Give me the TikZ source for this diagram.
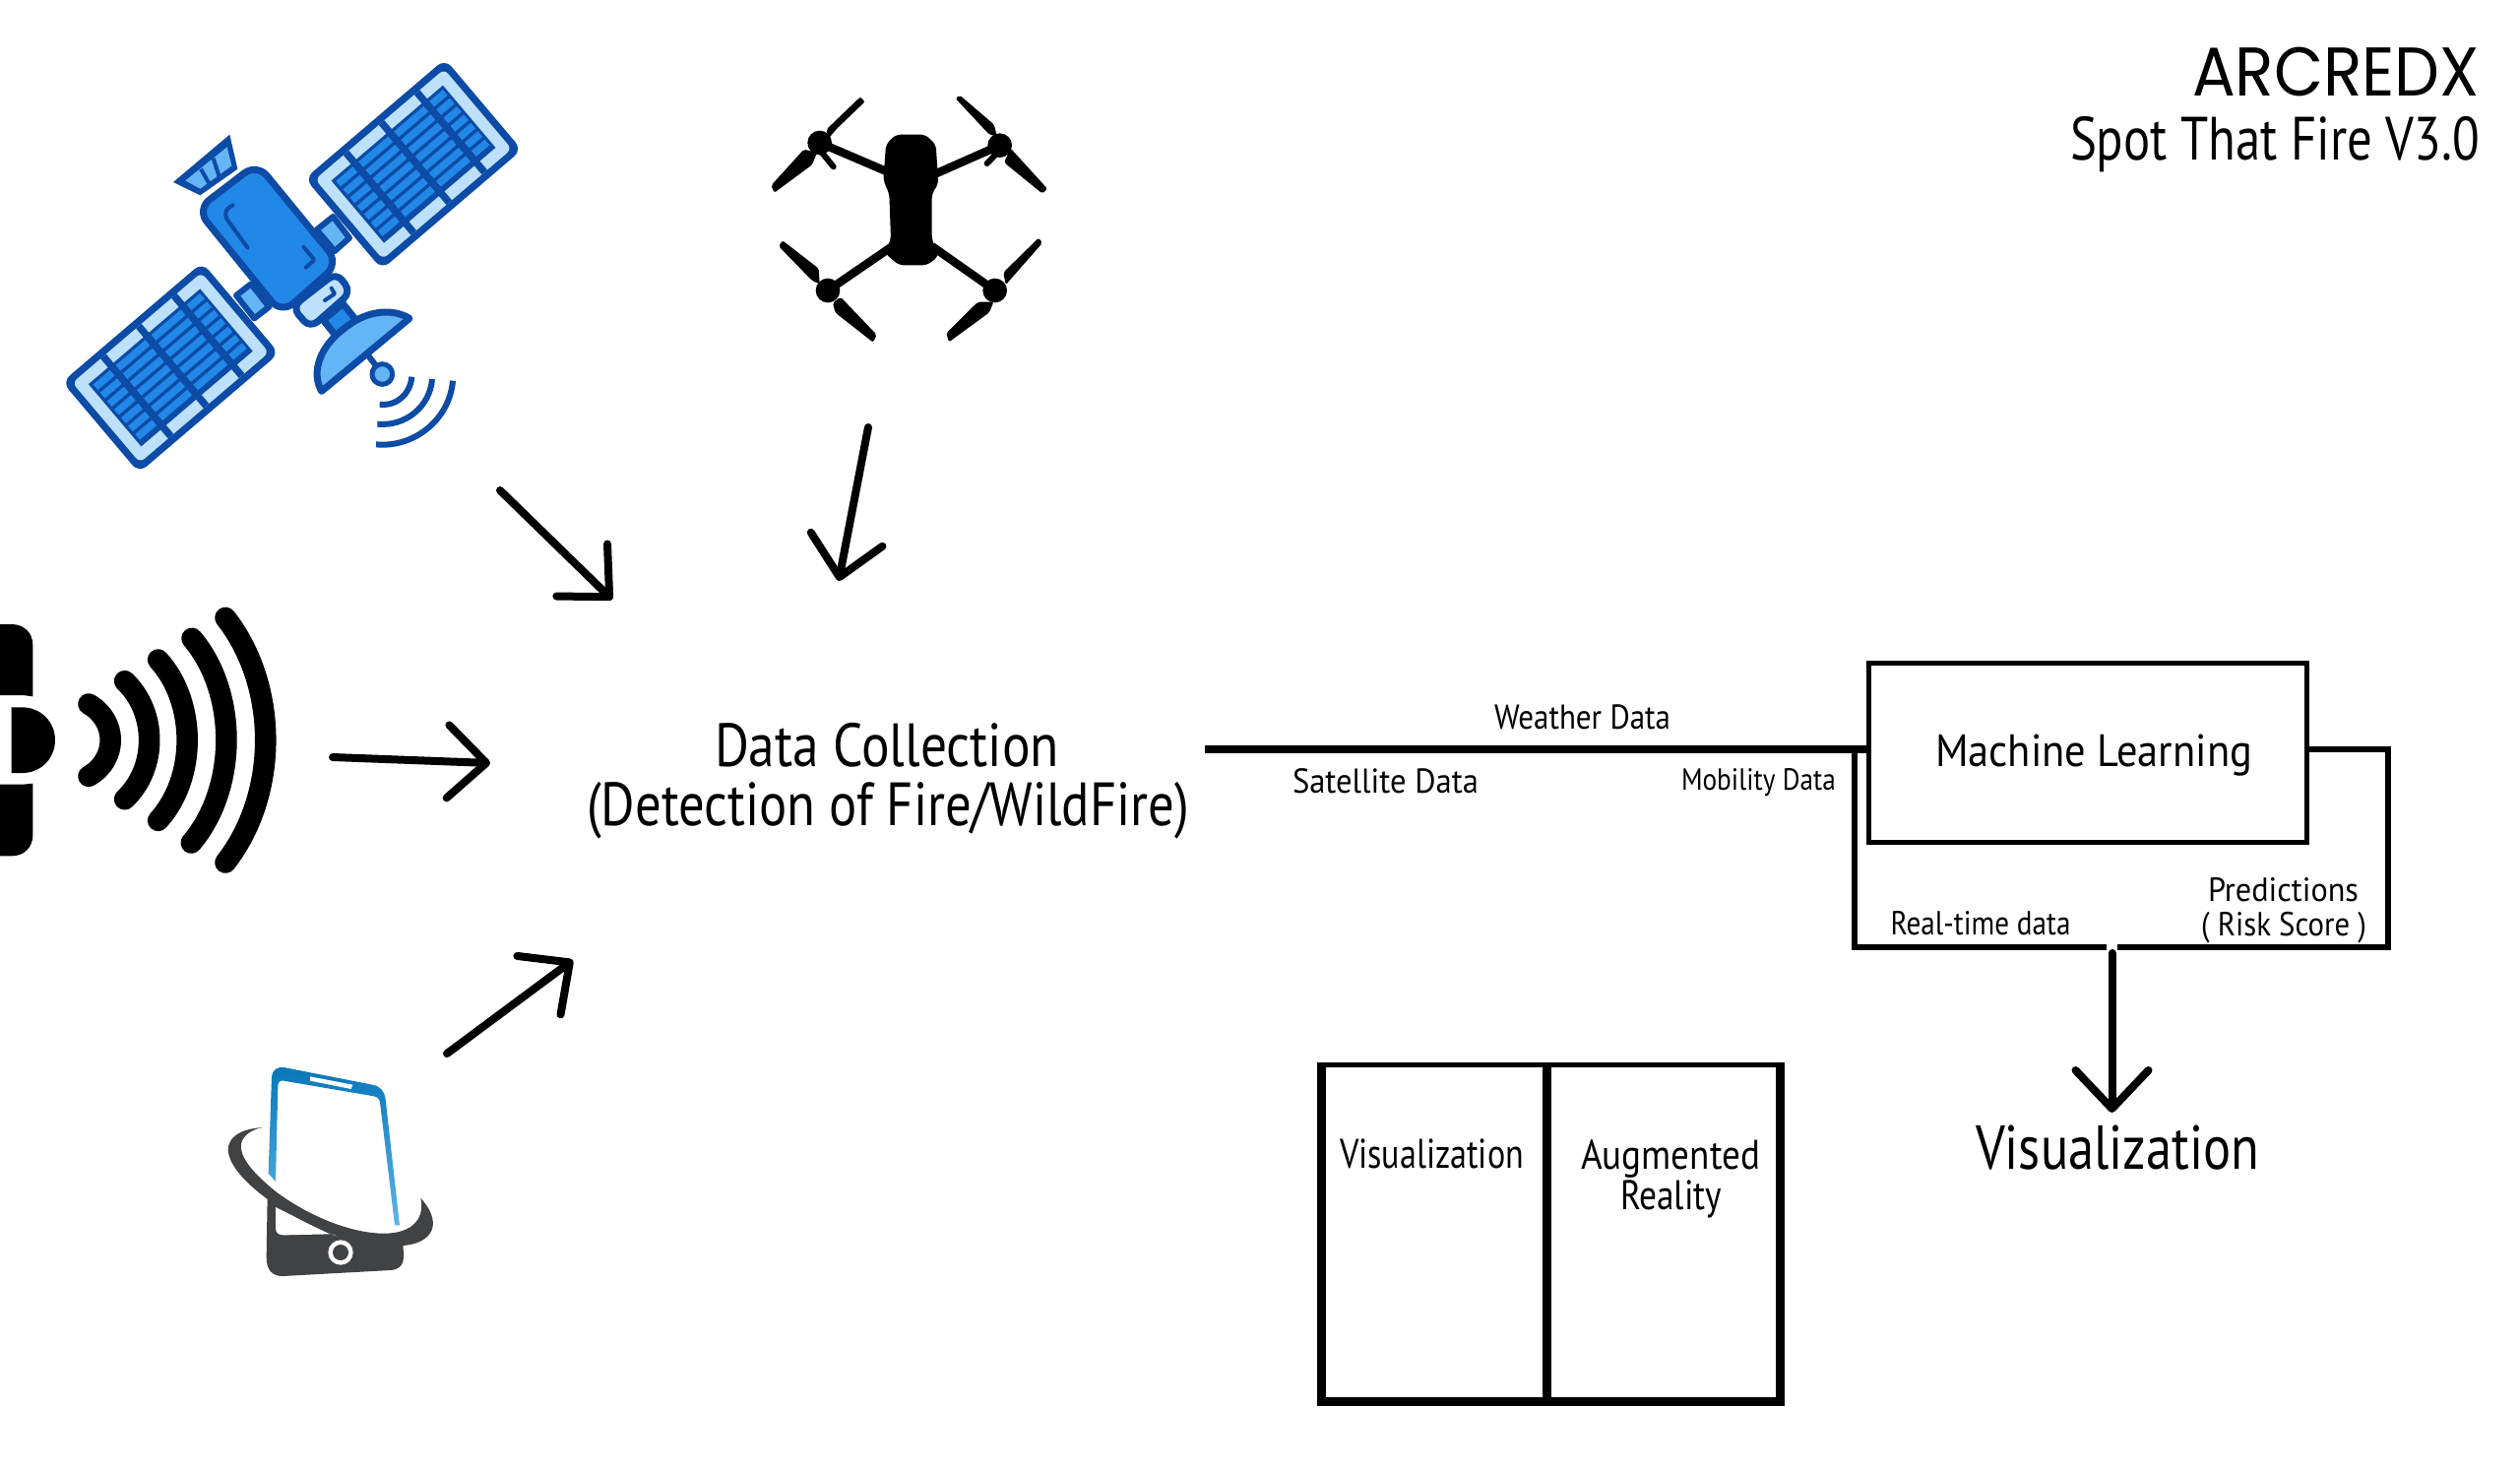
\documentclass[tikz,border=0pt]{standalone}
\usepackage{fontspec}
\usepackage{graphicx}
\setmainfont{PT Sans}
\newfontfamily\logofont{Poppins}
\usetikzlibrary{arrows.meta}
\definecolor{satdark}{HTML}{0C4BA6}
\definecolor{satmid}{HTML}{2288E8}
\definecolor{satlight}{HTML}{BDE0FB}
\definecolor{satsky}{HTML}{64B5F6}
\definecolor{phoneblue}{HTML}{0877B8}
\definecolor{phonesky}{HTML}{5DB4E8}
\definecolor{phonedark}{HTML}{414244}
\tikzset{
  lbl/.style={inner sep=0pt,outer sep=0pt,anchor=base west,text=black},
  feedarrow/.style={line width=4pt,line cap=round,-{Straight Barb[length=19.5pt,width=37pt,round]}},
  boxline/.style={draw=black,line width=2.5pt,fill=none},
  busline/.style={draw=black,line width=2.8pt},
  zoomed/.style={x=0.16667pt,y=-0.16667pt},
  satside/.style={x={(0.1268pt,0.1082pt)},y={(0.1078pt,-0.1275pt)}},
  satline/.style={draw=satdark,line width=3.5pt,line join=round},
}
% name, left x, baseline y, width in px, font size in pt, text
\newcommand{\lab}[6]{\node[lbl] (#1) at (#2,#3) {\resizebox{\dimexpr #4pt/2\relax}{\height}{\fontsize{#5}{#5}\selectfont #6}};}
% a rectangle as a polygon, so that it follows oblique axes
\newcommand{\qr}[4]{(#1,#2) -- (#3,#2) -- (#3,#4) -- (#1,#4) -- cycle}
\newcommand{\satpanel}[2]{%
  \begin{scope}[shift={(#1,#2)},satside]
    \fill[satdark,rounded corners=5pt] \qr{-11}{-11}{550}{351};
    \fill[satlight,rounded corners=3pt] \qr{11}{11}{528}{329};
    \fill[satdark] \qr{46}{46}{493}{294};
    \foreach \a/\b in {56/124,146/266,288/408,430/484}{
      \foreach \r in {0,...,6}{
        \pgfmathsetmacro{\bot}{56+\r*33}
        \pgfmathsetmacro{\tp}{78+\r*33}
        \fill[satmid] \qr{\a}{\bot}{\b}{\tp};
      }
    }
    \foreach \a in {124,266,408}{
      \pgfmathsetmacro{\ab}{\a+22}
      \fill[satdark] \qr{\a}{11}{\ab}{329};
    }
  \end{scope}}
\begin{document}
\begin{tikzpicture}[x=0.5pt,y=-0.5pt]
\useasboundingbox (0,0) rectangle (2560,1496);
\fill[white] (0,0) rectangle (2560,1496);

% ---------- satellite ----------
\begin{scope}[shift={(20pt,-20pt)},zoomed]
  \filldraw[fill=satsky,satline,line width=3pt] (845,580) -- (895,540) -- (945,605) -- (900,645) -- cycle;
  \filldraw[fill=satsky,satline,line width=3pt] (600,780) -- (645,745) -- (700,815) -- (655,850) -- cycle;
  \satpanel{825}{425}
  \satpanel{85}{1045}
  % cone
  \fill[satdark,line join=round] (408,435) -- (580,290) -- (604,395) -- (490,475) -- cycle;
  \fill[satsky] (445,430) -- (572,328) -- (586,385) -- (490,455) -- cycle;
  \draw[satdark,line width=2pt] (492,395) -- (518,440) (530,362) -- (548,418);
  % neck and dish
  \filldraw[fill=satmid,satline] (865,855) -- (925,805) -- (965,855) -- (905,905) -- cycle;
  \draw[satdark,line width=3pt] (1000,960) -- (1045,1020);
  \filldraw[fill=satsky,satline,line width=2.5pt] (1045,1020) circle[radius=31];
  \filldraw[fill=satsky,satline] (860,1072) .. controls (825,1010) and (860,930) .. (930,880)
     .. controls (990,830) and (1070,815) .. (1128,850) -- cycle;
  % bus box
  \filldraw[fill=satlight,satline,rounded corners=5pt] (905,710) -- (950,770) -- (825,880) -- (770,815) -- cycle;
  \draw[satdark,line width=2pt,line cap=round,line join=round] (870,795) -- (900,775) -- (890,758);
  % body
  \filldraw[fill=satmid,satline,rounded corners=8pt] (480,518) -- (663,378) -- (912,682) -- (738,836) -- cycle;
  \draw[satdark,line width=2pt,line cap=round,rounded corners=5pt] (590,505) -- (555,525) -- (635,635);
  \draw[satdark,line width=2pt,line cap=round,rounded corners=1pt] (805,632) -- (838,672) -- (812,695);
  % waves
  \draw[satdark,line width=3pt] (1135,1028) .. controls (1130,1080) and (1090,1118) .. (1037,1112);
  \draw[satdark,line width=3pt] (1197,1035) .. controls (1190,1120) and (1115,1180) .. (1030,1172);
  \draw[satdark,line width=3pt] (1260,1040) .. controls (1250,1160) and (1140,1245) .. (1026,1234);
\end{scope}

% ---------- drone ----------
\begin{scope}[shift={(380pt,-40pt)},zoomed]
  \fill[black,rounded corners=2.5pt] (450,170) -- (540,170) -- (572,200) -- (580,320) -- (560,350) -- (560,490)
     -- (582,540) -- (545,568) -- (460,568) -- (415,530) -- (435,490) -- (430,350) -- (412,310) -- (420,200) -- cycle;
  \draw[black,line width=4.2pt] (218,195) -- (440,290) (767,203) -- (570,290) (243,645) -- (440,510) (752,645) -- (560,510);
  \foreach \c in {(218,195),(767,203),(243,645),(752,645)}{\fill[black] \c circle[radius=37];}
  \fill[black,rounded corners=1pt] (170,215) -- (70,325) -- (80,347) -- (195,262) -- (210,225) -- cycle;
  \fill[black,rounded corners=1pt] (238,155) -- (342,55) -- (356,70) -- (272,150) -- (245,182) -- cycle;
  \draw[black,line width=3pt,line cap=round] (225,225) -- (260,268);
  \fill[black,rounded corners=1pt] (800,212) -- (912,335) -- (897,350) -- (780,255) -- cycle;
  \fill[black,rounded corners=1pt] (632,60) -- (645,50) -- (750,140) -- (758,175) -- (735,170) -- cycle;
  \draw[black,line width=3pt,line cap=round] (760,225) -- (728,258);
  \fill[black,rounded corners=1pt] (93,510) -- (105,493) -- (215,578) -- (218,625) -- (195,615) -- cycle;
  \fill[black,rounded corners=1pt] (258,682) -- (282,665) -- (392,780) -- (381,803) -- (265,712) -- cycle;
  \fill[black,rounded corners=1pt] (778,590) -- (885,485) -- (897,500) -- (818,590) -- (785,628) -- cycle;
  \fill[black,rounded corners=1pt] (700,680) -- (604,775) -- (612,802) -- (735,712) -- (748,680) -- cycle;
\end{scope}

% ---------- signal ----------
\begin{scope}[shift={(0pt,-300pt)},zoomed]
  \fill[black] (0,102) -- (35,102) .. controls (75,102) and (100,130) .. (100,165) -- (100,322) -- (70,318) -- (0,318) -- cycle;
  \fill[black] (35,355) -- (68,355) .. controls (125,355) and (168,400) .. (168,455) .. controls (168,510) and (125,555) .. (68,555) -- (35,555) -- cycle;
  \fill[black] (0,808) -- (35,808) .. controls (75,808) and (100,780) .. (100,745) -- (100,587) -- (70,590) -- (0,590) -- cycle;
  \draw[black,line width=10.8pt,line cap=round]
    (270,345) .. controls (359,395) and (359,515) .. (270,565)
    (380,275) .. controls (480,370) and (480,540) .. (380,635)
    (482,210) .. controls (600,340) and (600,570) .. (482,700)
    (585,145) .. controls (725,310) and (725,600) .. (583,768)
    (687,82) .. controls (850,290) and (850,620) .. (687,828);
\end{scope}

% ---------- phone ----------
\begin{scope}[shift={(100pt,-530pt)},zoomed]
  \shade[top color=phoneblue,bottom color=phonesky]
    (218,395) -- (228,100) .. controls (230,80) and (245,70) .. (265,72) -- (535,125) .. controls (560,130) and (572,145) .. (575,170)
    -- (618,553) -- (603,553) -- (558,178) .. controls (556,168) and (550,162) .. (540,160)
    -- (265,113) .. controls (252,111) and (248,118) .. (247,128) -- (240,420) -- cycle;
  \fill[white] (345,100) -- (475,125) -- (470,138) -- (345,113) -- cycle;
  \fill[phonedark] (215,465) -- (212,650) .. controls (212,690) and (230,708) .. (262,708) -- (590,690)
     .. controls (620,688) and (632,670) .. (630,640) -- (628,610) -- (420,585) -- (240,490) -- cycle;
  \fill[white] (240,498) -- (240,560) .. controls (240,578) and (250,583) .. (265,583) -- (405,580) -- cycle;
  \fill[phonedark] (200,255) .. controls (130,260) and (95,285) .. (95,325) .. controls (100,400) and (240,510) .. (400,575)
     .. controls (480,610) and (580,625) .. (650,612) .. controls (725,597) and (745,540) .. (682,470)
     .. controls (695,530) and (660,578) .. (570,578) .. controls (470,578) and (340,525) .. (240,450)
     .. controls (160,385) and (130,340) .. (135,305) .. controls (140,280) and (165,262) .. (200,255) -- cycle;
  \fill[white] (438,636) circle[radius=38];
  \fill[phonedark] (438,636) circle[radius=24];
\end{scope}

% ---------- feed arrows ----------
\coordinate (satS) at (508,498);   \coordinate (satT) at (622,609);
\coordinate (droneS) at (882,434); \coordinate (droneT) at (852,590);
\coordinate (sigS) at (338,769);   \coordinate (sigT) at (498,775);
\coordinate (phoneS) at (454,1070);\coordinate (phoneT) at (582,975);
\draw[feedarrow] (satS) -- (satT);
\draw[feedarrow] (droneS) -- (droneT);
\draw[feedarrow] (sigS) -- (sigT);
\draw[feedarrow] (phoneS) -- (phoneT);

% ---------- machine learning and its loop ----------
\node[boxline,inner sep=0pt,outer sep=0pt,minimum width=222.5pt,minimum height=91pt,anchor=north west] (ml) at (1898,673) {};
\coordinate (feedS) at (1224,761);
\coordinate (loopTL) at (1884,761);
\coordinate (loopBL) at (1884,962);
\coordinate (gapL) at (2140,962);
\coordinate (gapR) at (2151,962);
\coordinate (loopBR) at (2426,962);
\coordinate (loopTR) at (2426,761);
\coordinate (stemS) at (2145.5,968);
\coordinate (stemT) at (2145.5,1130);
\draw[black,line width=3.8pt] (feedS) -- (ml.west |- feedS);
\draw[busline,line cap=butt,line join=miter] (loopTL) -- (loopBL) -- (gapL);
\draw[busline,line width=3pt,line join=miter] (ml.east |- loopTR) -- (loopTR) -- (loopBR) -- (gapR);
\draw[feedarrow] (stemS) -- (stemT);

% ---------- visualization / AR box ----------
\fill[black] (1338,1079) rectangle (1813,1428);
\fill[white] (1346.5,1084) rectangle (1567,1419);
\fill[white] (1576,1084) rectangle (1804,1419);

% ---------- text ----------
\node[lbl] (logo) at (2227,97) {\resizebox{146pt}{\height}{\fontsize{35}{35}\logofont ARCREDX}};
\lab{spot}{2103}{162}{416}{31}{Spot That Fire V3.0}
\lab{dc}{726}{778}{350}{31}{Data Collection}
\lab{dcb}{596}{838}{612}{31}{(Detection of Fire/WildFire)}
\lab{weather}{1518}{740}{179}{17.5}{Weather Data}
\lab{satd}{1313}{805}{189}{17.5}{Satellite Data}
\lab{mob}{1708}{802}{157}{15.5}{Mobility Data}
\lab{mltext}{1966}{778}{322}{23}{Machine Learning}
\lab{real}{1920.5}{949}{183}{17}{Real-time data}
\lab{pred}{2243}{915}{153}{17}{Predictions}
\lab{risk}{2236}{950}{168}{17}{( Risk Score )}
\lab{visb}{2007}{1187}{288}{31.5}{Visualization}
\lab{visa}{1361}{1186}{187}{21}{Visualization}
\lab{aug}{1606}{1187}{182}{21}{Augmented}
\lab{reality}{1646}{1228}{103}{21}{Reality}
\end{tikzpicture}
\end{document}
